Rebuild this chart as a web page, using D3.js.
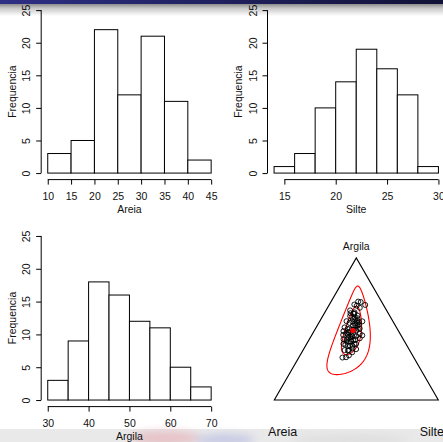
<!DOCTYPE html>
<html><head><meta charset="utf-8">
<script src="https://cdn.jsdelivr.net/npm/d3@7"></script>
<style>
html,body{margin:0;padding:0;background:#fff;overflow:hidden;}
svg{display:block;font-family:"Liberation Sans",Arial,Helvetica,sans-serif;}
</style></head><body>
<svg id="c" width="443" height="442"></svg>
<script>
// ---------- data ----------
const yTicks = [0, 5, 10, 15, 20, 25];

const areiaEdges  = [10, 15, 20, 25, 30, 35, 40, 45];
const areiaCounts = [3, 5, 22, 12, 21, 11, 2];
const areiaTicks  = [10, 15, 20, 25, 30, 35, 40, 45];

const silteEdges  = [14, 16, 18, 20, 22, 24, 26, 28, 30];
const silteCounts = [1, 3, 10, 14, 19, 16, 12, 1];
const silteTicks  = [15, 20, 25, 30];

const argilaEdges  = [30, 35, 40, 45, 50, 55, 60, 65, 70];
const argilaCounts = [3, 9, 18, 16, 12, 11, 5, 2];
const argilaTicks  = [30, 40, 50, 60, 70];

const sampleAreia = [43.5,41.2,39.6,38.8,38.1,37.7,37.2,36.9,36.4,36.0,35.7,35.4,35.1,
  34.8,34.5,34.2,33.9,33.6,33.3,33.0,32.7,32.5,32.2,32.0,31.8,31.6,31.4,31.2,31.0,30.8,30.6,30.4,30.3,30.1,
  29.8,29.4,29.0,28.6,28.2,27.8,27.4,27.0,26.6,26.2,25.8,25.4,
  24.8,24.6,24.4,24.2,24.0,23.8,23.6,23.4,23.2,23.0,22.8,22.6,22.4,22.2,22.0,21.8,21.6,21.4,21.1,20.8,20.5,20.2,
  19.5,18.6,17.6,16.5,15.4,14.2,12.8,11.1];
const sampleSilte = [26.6,28.7,25.3,29.8,22.4,27.5,23.9,28.0,20.8,26.1,
  30.7,23.2,19.1,27.1,22.9,29.5,24.8,17.9,28.5,23.5,
  20.3,26.3,32.0,22.1,25.6,17.3,29.1,24.3,21.3,27.2,
  21.6,30.1,19.7,25.1,24.0,28.2,20.7,25.8,16.3,22.7,
  27.7,18.7,23.7,30.4,21.8,25.5,19.9,28.8,23.1,16.7,
  25.9,22.3,30.9,19.4,24.5,15.9,26.9,21.1,23.4,14.7,
  25.0,20.2,22.6,17.8,24.2,18.4,21.9,18.1,21.0,26.0,
  15.2,17.1,19.65,16.5,18.2,21.95];
const sampleArgila = [29.9,30.1,35.1,31.4,39.5,34.8,38.9,35.1,42.8,37.9,
  33.6,41.4,45.8,38.1,42.6,36.3,41.3,48.5,38.2,43.5,
  47.0,41.2,35.8,45.9,42.6,51.1,39.5,44.5,47.7,42.0,
  47.8,39.5,50.0,44.8,46.2,42.4,50.3,45.6,55.5,49.5,
  44.9,54.3,49.7,43.4,52.4,49.1,55.3,46.6,52.5,59.1,
  50.1,53.9,45.5,57.2,52.3,61.1,50.3,56.3,54.2,63.1,
  53.0,58.0,55.8,60.8,54.7,60.8,57.6,61.7,59.5,55.4,
  67.2,66.4,64.95,69.3,69.0,66.95];

const ternaryLabels = ["Areia", "Silte", "Argila"];
const ellipseRadii = [1.75, 3.6];

// ---------- setup ----------
const svg = d3.select("#c");
const defs = svg.append("defs");

const gTop = defs.append("linearGradient").attr("id","navy").attr("x1","0").attr("x2","1").attr("y1","0").attr("y2","0");
gTop.append("stop").attr("offset","0").attr("stop-color","#2e2f85");
gTop.append("stop").attr("offset","1").attr("stop-color","#111236");
const gSh = defs.append("linearGradient").attr("id","shade").attr("x1","0").attr("x2","0").attr("y1","0").attr("y2","1");
gSh.append("stop").attr("offset","0").attr("stop-color","#8c8c8c");
gSh.append("stop").attr("offset","0.35").attr("stop-color","#c8c8c8");
gSh.append("stop").attr("offset","1").attr("stop-color","#ffffff");
const blurF = defs.append("filter").attr("id","blur").attr("x","-50%").attr("y","-50%").attr("width","200%").attr("height","200%");
blurF.append("feGaussianBlur").attr("stdDeviation","4");

const bg = svg.append("g");
bg.append("rect").attr("x",0).attr("y",0).attr("width",443).attr("height",442).attr("fill","#fff");
bg.append("rect").attr("x",0).attr("y",4).attr("width",443).attr("height",12).attr("fill","url(#shade)");
bg.append("rect").attr("x",0).attr("y",0).attr("width",443).attr("height",4).attr("fill","url(#navy)");
bg.append("rect").attr("x",0).attr("y",429).attr("width",443).attr("height",13).attr("fill","#e9e9ea");
const bl = bg.append("g").attr("filter","url(#blur)");
bl.append("ellipse").attr("cx",165).attr("cy",438).attr("rx",35).attr("ry",7).attr("fill","#e6a0a8").attr("opacity",0.55);
bl.append("ellipse").attr("cx",225).attr("cy",440).attr("rx",30).attr("ry",6).attr("fill","#a8aee0").attr("opacity",0.55);
bl.append("ellipse").attr("cx",350).attr("cy",440).attr("rx",60).attr("ry",4).attr("fill","#d8d8d8").attr("opacity",0.8);

const fs = 10.5;

function histogram(edges, counts, ticks, xlabel, xDom, xRng, yRng) {
  const g = svg.append("g");
  const x = d3.scaleLinear().domain(xDom).range(xRng);
  const y = d3.scaleLinear().domain([-1, 26]).range(yRng);
  const axisY = yRng[0], axisX = xRng[0];

  g.selectAll("rect.bar").data(counts).join("rect")
    .attr("class","bar")
    .attr("x", (d,i) => x(edges[i]))
    .attr("width", (d,i) => x(edges[i+1]) - x(edges[i]))
    .attr("y", d => y(d))
    .attr("height", d => y(0) - y(d))
    .attr("fill","#fff").attr("stroke","#000").attr("stroke-width",1);

  const xa = g.append("g").attr("transform", `translate(0,${axisY})`)
    .call(d3.axisBottom(x).tickValues(ticks).tickSize(5).tickFormat(d3.format("d")));
  xa.select(".domain").remove();
  xa.append("line").attr("x1", x(ticks[0])).attr("x2", x(ticks[ticks.length-1]))
    .attr("stroke","#000");
  xa.selectAll(".tick line").attr("stroke","#000");
  xa.selectAll(".tick text").attr("y", 20).attr("dy", 0)
    .attr("font-size", fs).attr("font-family","Liberation Sans, Arial, sans-serif").attr("fill","#111");

  const ya = g.append("g").attr("transform", `translate(${axisX},0)`)
    .call(d3.axisLeft(y).tickValues(yTicks).tickSize(5).tickFormat(d3.format("d")));
  ya.select(".domain").remove();
  ya.append("line").attr("y1", y(yTicks[0])).attr("y2", y(yTicks[yTicks.length-1])).attr("stroke","#000");
  ya.selectAll(".tick line").attr("stroke","#000");
  ya.selectAll(".tick text").attr("x", 0).attr("dy", 0)
    .attr("transform","translate(-10.8,0) rotate(-90)")
    .attr("text-anchor","middle")
    .attr("font-size", fs).attr("font-family","Liberation Sans, Arial, sans-serif").attr("fill","#111");

  g.append("text").attr("x", (xRng[0]+xRng[1])/2).attr("y", axisY + 33.4)
    .attr("text-anchor","middle").attr("font-size", fs).attr("fill","#111").text(xlabel);
  const cy = (yRng[0]+yRng[1])/2;
  g.append("text").attr("transform", `translate(${axisX - 25.3},${cy}) rotate(-90)`)
    .attr("text-anchor","middle").attr("font-size", fs).attr("fill","#111").text("Frequencia");
}

histogram(areiaEdges, areiaCounts, areiaTicks, "Areia", [8.6, 46.4], [41.2, 217.7], [179.6, 3.6]);
histogram(silteEdges, silteCounts, silteTicks, "Silte", [13.36, 30.64], [267.5, 445], [179.6, 3.6]);
histogram(argilaEdges, argilaCounts, argilaTicks, "Argila", [28.4, 71.6], [41.2, 217.7], [406.6, 229.4]);

// ---------- ternary ----------
const tx = d3.scaleLinear().domain([0, 1]).range([274.3, 438.3]);
const ty = d3.scaleLinear().domain([0, Math.sqrt(3)/2]).range([400, 400 - 164*Math.sqrt(3)/2]);
const tg = svg.append("g");

function toXY(a, s, c) {
  const t = a + s + c;
  const S = s / t, C = c / t;
  return [tx(S + C/2), ty(C*Math.sqrt(3)/2)];
}
tg.append("path")
  .attr("d", d3.line()([toXY(1,0,0), toXY(0,1,0), toXY(0,0,1)]) + "Z")
  .attr("fill","none").attr("stroke","#000").attr("stroke-width",1.1);

const v1 = [1/Math.SQRT2, -1/Math.SQRT2, 0];
const v2 = [1/Math.sqrt(6), 1/Math.sqrt(6), -2/Math.sqrt(6)];
function ilr(a, s, c) {
  const l = [Math.log(a), Math.log(s), Math.log(c)];
  const m = (l[0]+l[1]+l[2])/3;
  const clr = l.map(v => v - m);
  return [clr[0]*v1[0]+clr[1]*v1[1]+clr[2]*v1[2], clr[0]*v2[0]+clr[1]*v2[1]+clr[2]*v2[2]];
}
function ilrInv(z) {
  const e = [0,1,2].map(k => Math.exp(z[0]*v1[k] + z[1]*v2[k]));
  const t = e[0]+e[1]+e[2];
  return e.map(v => v/t);
}
const Z = sampleAreia.map((a, i) => ilr(a, sampleSilte[i], sampleArgila[i]));
const n = Z.length;
const m0 = d3.mean(Z, d => d[0]), m1 = d3.mean(Z, d => d[1]);
let s11 = 0, s12 = 0, s22 = 0;
Z.forEach(d => { s11 += (d[0]-m0)**2; s12 += (d[0]-m0)*(d[1]-m1); s22 += (d[1]-m1)**2; });
s11 /= (n-1); s12 /= (n-1); s22 /= (n-1);
const l11 = Math.sqrt(s11), l21 = s12/l11, l22 = Math.sqrt(s22 - l21*l21);

const angles = d3.range(0, 361, 2).map(d => d*Math.PI/180);
ellipseRadii.forEach(r => {
  const pts = angles.map(t => {
    const u = Math.cos(t), w = Math.sin(t);
    const z = [m0 + r*l11*u, m1 + r*(l21*u + l22*w)];
    const p = ilrInv(z);
    return toXY(p[0], p[1], p[2]);
  });
  tg.append("path").attr("d", d3.line()(pts)).attr("fill","none")
    .attr("stroke","#ff0000").attr("stroke-width",1.1);
});

tg.selectAll("circle.pt").data(sampleAreia).join("circle")
  .attr("class","pt")
  .attr("cx", (d,i) => toXY(d, sampleSilte[i], sampleArgila[i])[0])
  .attr("cy", (d,i) => toXY(d, sampleSilte[i], sampleArgila[i])[1])
  .attr("r", 2.5).attr("fill","none").attr("stroke","#000").attr("stroke-width",0.9);

const mp = ilrInv([m0, m1]);
const mxy = toXY(mp[0], mp[1], mp[2]);
tg.append("circle").attr("cx", mxy[0]).attr("cy", mxy[1]).attr("r", 2.6).attr("fill","#ff0000");

const vTop = toXY(0,0,1), vLeft = toXY(1,0,0), vRight = toXY(0,1,0);
tg.append("text").attr("x", vTop[0]).attr("y", vTop[1] - 7.5).attr("text-anchor","middle")
  .attr("font-size", fs).attr("fill","#111").text(ternaryLabels[2]);
tg.append("text").attr("x", vLeft[0] + 8.4).attr("y", 436).attr("text-anchor","middle")
  .attr("font-size", 12.5).attr("fill","#111").text(ternaryLabels[0]);
tg.append("text").attr("x", vRight[0] - 6.5).attr("y", 436).attr("text-anchor","middle")
  .attr("font-size", 12.5).attr("fill","#111").text(ternaryLabels[1]);
</script>
</body></html>
